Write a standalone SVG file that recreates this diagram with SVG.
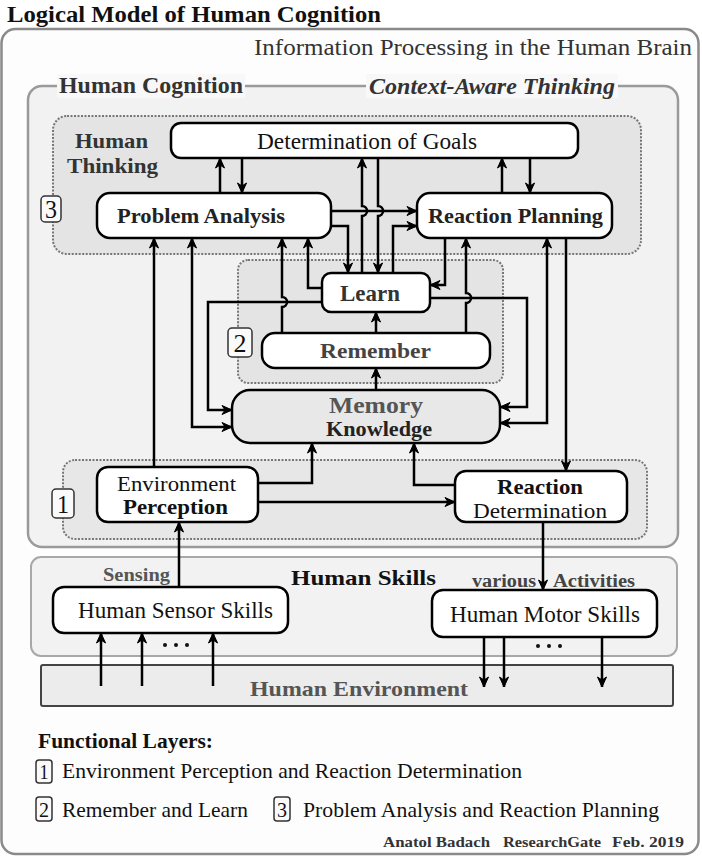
<svg xmlns="http://www.w3.org/2000/svg" width="702" height="857" viewBox="0 0 702 857">
<defs>
<marker id="ah" markerUnits="userSpaceOnUse" markerWidth="12" markerHeight="12" viewBox="0 0 12 12" refX="11" refY="6" orient="auto-start-reverse">
<path d="M1,1.5 L11,6 L1,10.5 L4,6 z" fill="#000" stroke="#000" stroke-width="1" stroke-linejoin="miter"/>
</marker>
</defs>
<style>
text{font-family:"Liberation Serif","Times New Roman",serif;fill:#111}
.b{font-weight:bold}
.node{fill:#fff;stroke:#000;stroke-width:2.5}
.dot{stroke:#777;stroke-width:2;stroke-dasharray:2,1.5}
.num{fill:#fafafa;stroke:#333;stroke-width:1.5}
.ln{fill:none;stroke:#000;stroke-width:2.5}
.ar{marker-end:url(#ah)}
.ar2{marker-start:url(#ah);marker-end:url(#ah)}
</style>
<rect width="702" height="857" fill="#fff"/>
<text class="b" x="7" y="22" font-size="23" textLength="374" lengthAdjust="spacingAndGlyphs">Logical Model of Human Cognition</text>

<g id="frame-brain">
<rect x="1.5" y="29" width="697" height="825" rx="14" fill="#fdfdfd" stroke="#8a8a8a" stroke-width="2.5"/>
<text x="254" y="55" font-size="24" textLength="438" lengthAdjust="spacingAndGlyphs" style="fill:#333">Information Processing in the Human Brain</text>
</g>

<g id="frame-cognition">
<rect x="28" y="86" width="650" height="461" rx="14" fill="#f2f2f2" stroke="#9a9a9a" stroke-width="2.5"/>
<rect x="57" y="74" width="188" height="24" fill="#f8f8f8"/>
<rect x="366" y="74" width="252" height="24" fill="#f8f8f8"/>
<text class="b" x="59" y="93" font-size="23" textLength="184" lengthAdjust="spacingAndGlyphs" style="fill:#333">Human Cognition</text>
<text class="b" x="369" y="94" font-size="23" font-style="italic" textLength="246" lengthAdjust="spacingAndGlyphs" style="fill:#333">Context-Aware Thinking</text>
</g>

<g id="layer3">
<rect class="dot" x="53" y="116" width="588" height="138" rx="14" fill="#e4e4e4"/>
<text class="b" x="75" y="148" font-size="22" textLength="73" lengthAdjust="spacingAndGlyphs" style="fill:#333">Human</text>
<text class="b" x="67" y="173" font-size="22" textLength="91" lengthAdjust="spacingAndGlyphs" style="fill:#333">Thinking</text>
<rect class="num" x="41" y="196" width="20" height="26" rx="4"/>
<text x="51" y="218" font-size="25" text-anchor="middle" textLength="12" lengthAdjust="spacingAndGlyphs">3</text>
</g>

<g id="layer2">
<rect class="dot" x="238" y="260" width="265" height="123" rx="10" fill="#e4e4e4"/>
<rect class="num" x="228" y="328" width="24" height="29" rx="4"/>
<text x="240" y="352" font-size="26" text-anchor="middle" textLength="13" lengthAdjust="spacingAndGlyphs">2</text>
</g>

<g id="layer1">
<rect class="dot" x="63" y="460" width="584" height="79" rx="12" fill="#e7e7e7"/>
<rect class="num" x="52" y="489" width="22" height="29" rx="4"/>
<text x="63" y="513" font-size="26" text-anchor="middle" textLength="12" lengthAdjust="spacingAndGlyphs">1</text>
</g>

<g id="frame-skills">
<rect x="31" y="557" width="646" height="99" rx="10" fill="#f2f2f2" stroke="#a8a8a8" stroke-width="2"/>
<text class="b" x="291" y="585" font-size="22" textLength="145" lengthAdjust="spacingAndGlyphs">Human Skills</text>
<text class="b" x="103" y="581" font-size="18" textLength="67" lengthAdjust="spacingAndGlyphs" style="fill:#555">Sensing</text>
<text class="b" x="472" y="587" font-size="18" textLength="64" lengthAdjust="spacingAndGlyphs" style="fill:#444">various</text>
<text class="b" x="553" y="587" font-size="18" textLength="82" lengthAdjust="spacingAndGlyphs" style="fill:#444">Activities</text>
</g>

<g id="environment">
<rect x="41" y="665" width="632" height="41" rx="2" fill="#ececec" stroke="#444" stroke-width="2"/>
<text class="b" x="250" y="696" font-size="22" textLength="218" lengthAdjust="spacingAndGlyphs" style="fill:#555">Human Environment</text>
</g>

<g id="goals">
<rect class="node" x="171" y="123" width="407" height="35" rx="10"/>
<text x="257" y="149" font-size="23" textLength="220" lengthAdjust="spacingAndGlyphs">Determination of Goals</text>
</g>

<g id="problem-analysis">
<rect class="node" x="97" y="193" width="234" height="45" rx="13"/>
<text class="b" x="117" y="223" font-size="22" textLength="168" lengthAdjust="spacingAndGlyphs" style="fill:#222">Problem Analysis</text>
</g>

<g id="reaction-planning">
<rect class="node" x="417" y="193" width="195" height="45" rx="13"/>
<text class="b" x="428" y="223" font-size="22" textLength="175" lengthAdjust="spacingAndGlyphs" style="fill:#222">Reaction Planning</text>
</g>

<g id="learn">
<rect class="node" x="322" y="273" width="108" height="39" rx="9"/>
<text class="b" x="340" y="301" font-size="23" textLength="60" lengthAdjust="spacingAndGlyphs" style="fill:#333">Learn</text>
</g>

<g id="remember">
<rect class="node" x="262" y="333" width="228" height="35" rx="13"/>
<text class="b" x="320" y="358" font-size="22" textLength="111" lengthAdjust="spacingAndGlyphs" style="fill:#444">Remember</text>
</g>

<g id="memory">
<rect x="232" y="390" width="268" height="53" rx="18" fill="#e8e8e8" stroke="#000" stroke-width="2.5"/>
<text class="b" x="329" y="413" font-size="24" textLength="94" lengthAdjust="spacingAndGlyphs" style="fill:#555">Memory</text>
<text class="b" x="326" y="436" font-size="20" textLength="106" lengthAdjust="spacingAndGlyphs" style="fill:#222">Knowledge</text>
</g>

<g id="env-perception">
<rect class="node" x="97" y="467" width="161" height="55" rx="11"/>
<text x="117" y="491" font-size="20" textLength="119" lengthAdjust="spacingAndGlyphs">Environment</text>
<text class="b" x="123" y="514" font-size="20" textLength="105" lengthAdjust="spacingAndGlyphs">Perception</text>
</g>

<g id="reaction-determination">
<rect class="node" x="455" y="471" width="172" height="51" rx="11"/>
<text class="b" x="497" y="494" font-size="21" textLength="86" lengthAdjust="spacingAndGlyphs">Reaction</text>
<text x="473" y="518" font-size="21" textLength="134" lengthAdjust="spacingAndGlyphs">Determination</text>
</g>

<g id="sensor-skills">
<rect class="node" x="53" y="587" width="235" height="46" rx="11"/>
<text x="78" y="618" font-size="23" textLength="195" lengthAdjust="spacingAndGlyphs">Human Sensor Skills</text>
</g>

<g id="motor-skills">
<rect class="node" x="432" y="590" width="225" height="47" rx="11"/>
<text x="450" y="622" font-size="23" textLength="190" lengthAdjust="spacingAndGlyphs">Human Motor Skills</text>
</g>

<g id="connectors">
<path class="ln ar" d="M220,193 V158"/>
<path class="ln ar" d="M242,158 V193"/>
<path class="ln ar" d="M502,193 V158"/>
<path class="ln ar" d="M530,158 V193"/>
<path class="ln ar" d="M362,273 V216 a5,5 0 0 0 0,-10 V158"/>
<path class="ln ar" d="M378,158 V206 a5,5 0 0 1 0,10 V273"/>
<path class="ln ar" d="M331,211 H417"/>
<path class="ln ar" d="M331,226 H348 V273"/>
<path class="ln ar" d="M393,273 V226 H417"/>
<path class="ln ar" d="M322,288 H308 V238"/>
<path class="ln ar" d="M282,333 V307 a5,5 0 0 0 0,-10 V238"/>
<path class="ln ar" d="M322,302 H208 V410 H232"/>
<path class="ln ar2" d="M192,238 V427 H232"/>
<path class="ln ar" d="M154,467 V238"/>
<path class="ln ar" d="M445,238 V285 H430"/>
<path class="ln ar" d="M466,333 V303 a5,5 0 0 0 0,-10 V238"/>
<path class="ln ar" d="M430,298 H527 V407 H500"/>
<path class="ln ar2" d="M547,238 V423 H500"/>
<path class="ln ar" d="M566,238 V471"/>
<path class="ln ar" d="M376,333 V312"/>
<path class="ln ar" d="M376,390 V368"/>
<path class="ln ar" d="M258,483 H312 V443"/>
<path class="ln ar" d="M455,485 H414 V443"/>
<path class="ln ar" d="M258,502 H455"/>
<path class="ln ar" d="M179,587 V522"/>
<path class="ln ar" d="M543,522 V590"/>
<path class="ln ar" d="M101,686 V633"/>
<path class="ln ar" d="M142,686 V633"/>
<path class="ln ar" d="M213,686 V633"/>
<path class="ln ar" d="M484,637 V687"/>
<path class="ln ar" d="M504,637 V687"/>
<path class="ln ar" d="M602,637 V687"/>
</g>

<g id="ellipses" fill="#111">
<circle cx="165" cy="645" r="2"/><circle cx="176" cy="645" r="2"/><circle cx="187" cy="645" r="2"/>
<circle cx="538" cy="646" r="2"/><circle cx="549" cy="646" r="2"/><circle cx="560" cy="646" r="2"/>
</g>

<g id="legend">
<text class="b" x="38" y="748" font-size="21" textLength="175" lengthAdjust="spacingAndGlyphs">Functional Layers:</text>
<rect class="num" x="36" y="760" width="16" height="23" rx="3"/>
<text x="44" y="779" font-size="21" text-anchor="middle" textLength="9" lengthAdjust="spacingAndGlyphs">1</text>
<text x="62" y="778" font-size="22" textLength="460" lengthAdjust="spacingAndGlyphs">Environment Perception and Reaction Determination</text>
<rect class="num" x="36" y="797" width="16" height="24" rx="3"/>
<text x="44" y="817" font-size="21" text-anchor="middle" textLength="10" lengthAdjust="spacingAndGlyphs">2</text>
<text x="62" y="817" font-size="22" textLength="186" lengthAdjust="spacingAndGlyphs">Remember and Learn</text>
<rect class="num" x="274" y="797" width="16" height="24" rx="3"/>
<text x="282" y="817" font-size="21" text-anchor="middle" textLength="10" lengthAdjust="spacingAndGlyphs">3</text>
<text x="303" y="817" font-size="22" textLength="356" lengthAdjust="spacingAndGlyphs">Problem Analysis and Reaction Planning</text>
<text class="b" x="383" y="847" font-size="15" textLength="107" lengthAdjust="spacingAndGlyphs" style="fill:#333">Anatol Badach</text>
<text class="b" x="503" y="847" font-size="15" textLength="98" lengthAdjust="spacingAndGlyphs" style="fill:#333">ResearchGate</text>
<text class="b" x="612" y="847" font-size="15" textLength="72" lengthAdjust="spacingAndGlyphs" style="fill:#333">Feb. 2019</text>
</g>
</svg>
